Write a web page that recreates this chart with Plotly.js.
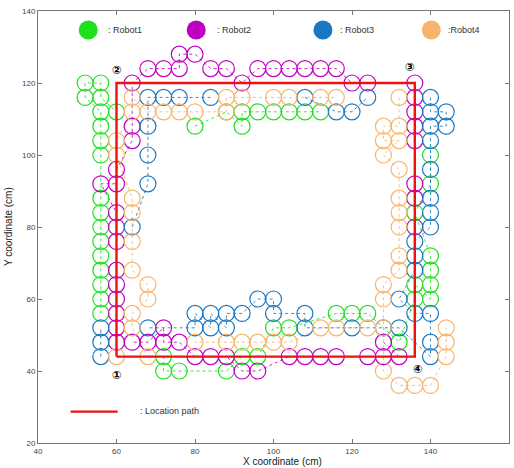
<!DOCTYPE html>
<html>
<head>
<meta charset="utf-8">
<script src="https://cdn.plot.ly/plotly-3.0.1.min.js"></script>
<style>
  html, body { margin: 0; padding: 0; background: #fff; }
  #chart { width: 514px; height: 468px; }
</style>
</head>
<body>
<div id="chart"></div>
<script>
// Robot names and colours
const robotNames = ['Robot1', 'Robot2', 'Robot3', 'Robot4'];
const robotColors = ['#1fe01f', '#c000c0', '#1a78c2', '#f7b56c'];

// Recorded positions (x, y in cm) of each robot, in travel order
const robot1Path = [
  [56,56],[56,60],[56,64],[56,68],[56,72],[56,76],[56,80],[56,84],[56,88],
  [56,100],[56,104],[56,108],[56,112],[52,116],[52,120],[56,120],[56,116],[60,112],
  [80,108],[88,112],[92,108],[92,112],[96,112],[100,112],[104,112],[108,112],[112,112],
  [140,100],[140,92],[136,84],[140,72],[140,68],[140,64],[140,60],[136,64],[136,60],
  [132,48],[124,56],[120,56],[116,56],[104,52],[100,52],[96,44],[92,44],[88,40],
  [76,40],[72,40],[72,44]
];
const robot2Path = [
  [60,48],[60,52],[60,56],[60,60],[60,64],[60,68],[60,76],[60,80],[60,84],
  [56,92],[60,92],[60,96],[64,104],[64,108],[64,120],[68,124],[72,124],[76,124],
  [76,128],[80,128],[84,124],[88,124],[92,120],[96,124],[100,124],[104,124],[108,124],
  [112,124],[116,124],[120,120],[124,120],[136,120],[136,116],[136,112],[136,108],
  [136,104],[136,92],[136,88],[136,80],[128,48],[132,44],[128,44],[124,44],[116,44],
  [112,44],[108,44],[104,44],[96,40],[92,40],[88,44],[84,44],[80,44],[76,48],
  [72,48],[72,52],[68,48],[64,48]
];
const robot3Path = [
  [56,44],[56,48],[56,52],[64,80],[68,92],[68,100],[68,108],[68,116],[72,116],
  [76,116],[84,116],[108,116],[116,112],[120,112],[124,116],[140,116],[140,112],
  [144,112],[144,108],[140,108],[140,104],[140,96],[140,88],[140,84],[140,80],
  [136,76],[136,72],[136,68],[132,60],[136,56],[140,56],[140,48],[140,44],[132,52],
  [128,52],[120,52],[108,52],[108,56],[100,56],[100,60],[96,60],[92,56],[88,56],
  [88,52],[84,56],[84,52],[80,56],[80,52],[68,52]
];
const robot4Path = [
  [60,44],[68,44],[64,52],[64,56],[68,60],[68,64],[64,68],[64,76],[64,84],[64,88],
  [60,100],[60,104],[64,112],[64,116],[68,112],[72,112],[76,112],[80,112],[88,112],
  [88,116],[92,116],[100,116],[104,116],[112,116],[116,116],[132,116],[132,108],
  [128,108],[128,104],[132,104],[128,100],[132,96],[132,88],[132,84],[132,80],
  [132,72],[132,68],[128,64],[128,60],[128,52],[128,40],[132,36],[136,36],[140,36],
  [144,44],[144,48],[144,52],[124,52],[116,52],[112,52],[104,48],[100,48],[96,48],
  [92,48],[88,48],[80,48]
];
const robotPaths = [robot1Path, robot2Path, robot3Path, robot4Path];

// Planned location path through corners 1 -> 2 -> 3 -> 4
const locationPath = [[60,44],[60,120],[136,120],[136,44],[60,44]];
const cornerLabels = ['①', '②', '③', '④'];

const xTicks = [40, 60, 80, 100, 120, 140, 160];
const yTicks = [20, 40, 60, 80, 100, 120, 140];

const traces = [];
const font = 'Arial, "Liberation Sans", sans-serif';

// dotted trajectory through consecutive positions (broken at long jumps)
robotPaths.forEach((pts, i) => {
  const xs = [], ys = [];
  pts.forEach((p, k) => {
    if (k > 0) {
      const q = pts[k - 1];
      if (Math.hypot(p[0] - q[0], p[1] - q[1]) > 14) { xs.push(null); ys.push(null); }
    }
    xs.push(p[0]); ys.push(p[1]);
  });
  traces.push({
    type: 'scatter', mode: 'lines', x: xs, y: ys, connectgaps: false,
    line: { color: robotColors[i], width: 1, dash: 'dot' },
    opacity: 0.85, hoverinfo: 'skip', showlegend: false
  });
});

// robot footprint circles
robotPaths.forEach((pts, i) => {
  traces.push({
    type: 'scatter', mode: 'markers', name: robotNames[i],
    x: pts.map(p => p[0]), y: pts.map(p => p[1]),
    marker: { symbol: 'circle-open', size: 16, color: robotColors[i],
              line: { color: robotColors[i], width: 1.2 } },
    showlegend: false
  });
});

// location path
traces.push({
  type: 'scatter', mode: 'lines', name: 'Location path',
  x: locationPath.map(p => p[0]), y: locationPath.map(p => p[1]),
  line: { color: '#f01010', width: 2.4 }, showlegend: false
});

// hand-placed key along the top of the plot
const keyX = [52.8, 80.3, 112.6, 140.2];
const keyY = 134.7;
traces.push({
  type: 'scatter', mode: 'markers', x: keyX, y: keyX.map(() => keyY),
  marker: { symbol: 'circle', size: 19, color: robotColors, line: { width: 0 } },
  hoverinfo: 'skip', showlegend: false
});
// key sample for the location path
traces.push({
  type: 'scatter', mode: 'lines', x: [48.3, 60.3], y: [28.7, 28.7],
  line: { color: '#f01010', width: 2.2 }, hoverinfo: 'skip', showlegend: false
});

const keyText = [': Robot1', ': Robot2', ': Robot3', ':Robot4'];
const keyTextX = [57.2, 85.0, 116.4, 144.0];
const annotations = keyText.map((t, i) => ({
  x: keyTextX[i], y: keyY, xref: 'x', yref: 'y', text: t, showarrow: false,
  xanchor: 'left', yanchor: 'middle', font: { family: font, size: 9, color: '#333' }
}));
annotations.push({
  x: 65.4, y: 28.9, xref: 'x', yref: 'y', text: ': Location path', showarrow: false,
  xanchor: 'left', yanchor: 'middle', font: { family: font, size: 9, color: '#333' }
});

// corner markers on the location path
const cornerOffsets = [[0, -5.2], [0, 3.6], [-1.2, 4.4], [0.8, -3.4]];
const corners = [locationPath[0], locationPath[1], locationPath[2], locationPath[3]];
corners.forEach((c, i) => {
  annotations.push({
    x: c[0] + cornerOffsets[i][0], y: c[1] + cornerOffsets[i][1], xref: 'x', yref: 'y',
    text: '<b>' + cornerLabels[i] + '</b>', showarrow: false, xanchor: 'center', yanchor: 'middle',
    font: { family: '"DejaVu Sans", "Noto Sans CJK SC", sans-serif', size: 11.5, color: '#000' }
  });
});

// axis titles
annotations.push({
  x: 0.52, y: 0, xref: 'paper', yref: 'paper', yshift: -18.5, text: 'X coordinate (cm)',
  showarrow: false, xanchor: 'center', yanchor: 'middle',
  font: { family: font, size: 10, color: '#222' }
});
annotations.push({
  x: 0, y: 0.5, xref: 'paper', yref: 'paper', xshift: -30, text: 'Y coordinate (cm)',
  showarrow: false, textangle: -90, xanchor: 'center', yanchor: 'middle',
  font: { family: font, size: 10, color: '#222' }
});

const axisCommon = {
  showgrid: false, zeroline: false, showline: true, linecolor: '#777', linewidth: 1,
  mirror: 'ticks', ticks: 'inside', ticklen: 4, tickcolor: '#777', tickwidth: 1,
  tickfont: { family: font, size: 8, color: '#444' }, automargin: false, fixedrange: true
};

const layout = {
  width: 514, height: 468,
  margin: { l: 38, r: 5, t: 11, b: 25 },
  paper_bgcolor: '#fff', plot_bgcolor: '#fff',
  xaxis: Object.assign({}, axisCommon, { range: [40, 160], tickvals: xTicks }),
  yaxis: Object.assign({}, axisCommon, { range: [20, 140], tickvals: yTicks }),
  annotations: annotations,
  showlegend: false
};

Plotly.newPlot('chart', traces, layout, { displayModeBar: false, staticPlot: true });
</script>
</body>
</html>
